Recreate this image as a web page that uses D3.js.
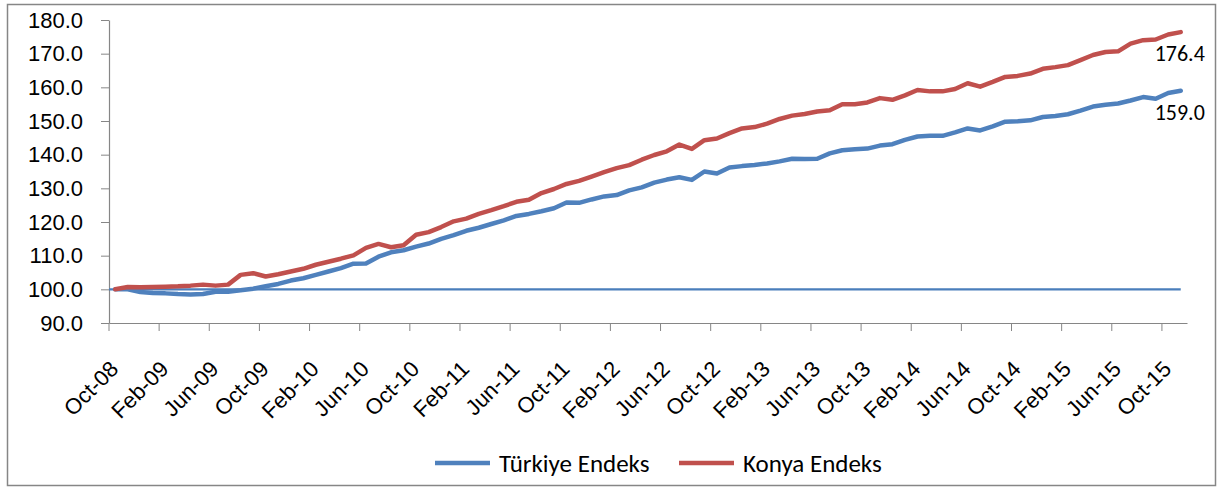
<!DOCTYPE html>
<html>
<head>
<meta charset="utf-8">
<script src="https://cdn.jsdelivr.net/npm/d3@7"></script>
<style>
  body { margin: 0; background: #fff; }
  svg { display: block; font-family: Calibri, Carlito, Lato, sans-serif; }
  .axis path, .axis line { stroke: #868686; }
  .axis text { fill: #000; font-size: 22px; }
</style>
</head>
<body>
<svg id="chart" width="1218" height="488"></svg>
<script>
// monthly categories, Oct-08 .. Nov-15
const months = d3.timeMonth.range(new Date(2008, 9, 1), new Date(2015, 11, 1));
const fmt = d3.timeFormat("%b-%y");
const categories = months.map(fmt);

const tickLabels = ["Oct-08", "Feb-09", "Jun-09", "Oct-09", "Feb-10", "Jun-10", "Oct-10",
  "Feb-11", "Jun-11", "Oct-11", "Feb-12", "Jun-12", "Oct-12", "Feb-13", "Jun-13",
  "Oct-13", "Feb-14", "Jun-14", "Oct-14", "Feb-15", "Jun-15", "Oct-15"];

const yTicks = [90, 100, 110, 120, 130, 140, 150, 160, 170, 180];
const baseLevel = 100;

const turkiye = [
  100.0, 100.0, 99.2, 98.9, 98.8, 98.6, 98.5, 98.6, 99.3, 99.3,
  99.7, 100.2, 100.9, 101.6, 102.6, 103.3, 104.3, 105.3, 106.3, 107.6,
  107.7, 109.7, 111.0, 111.6, 112.7, 113.6, 115.0, 116.1, 117.4, 118.3,
  119.4, 120.5, 121.8, 122.4, 123.2, 124.1, 125.8, 125.7, 126.7, 127.6,
  128.0, 129.4, 130.3, 131.7, 132.6, 133.3, 132.5, 135.0, 134.4, 136.2,
  136.6, 136.9, 137.4, 138.0, 138.8, 138.7, 138.8, 140.4, 141.3, 141.6,
  141.8, 142.7, 143.1, 144.4, 145.4, 145.6, 145.6, 146.6, 147.8, 147.2,
  148.4, 149.8, 149.9, 150.2, 151.2, 151.5, 152.0, 153.1, 154.3, 154.8,
  155.2, 156.1, 157.1, 156.6, 158.3, 159.0
];

const konya = [
  100.0, 100.7, 100.6, 100.7, 100.8, 100.9, 101.1, 101.4, 101.1, 101.4,
  104.3, 104.8, 103.8, 104.5, 105.3, 106.1, 107.3, 108.2, 109.1, 110.1,
  112.3, 113.5, 112.5, 113.1, 116.2, 117.0, 118.5, 120.2, 121.0, 122.4,
  123.5, 124.7, 126.0, 126.6, 128.6, 129.8, 131.3, 132.2, 133.5, 134.8,
  136.0, 136.9, 138.5, 139.9, 141.0, 143.0, 141.7, 144.3, 144.8, 146.4,
  147.8, 148.2, 149.2, 150.6, 151.6, 152.1, 152.8, 153.2, 155.0, 155.0,
  155.5, 156.8, 156.3, 157.6, 159.2, 158.8, 158.8, 159.5, 161.2, 160.2,
  161.6, 163.1, 163.4, 164.1, 165.5, 166.0, 166.6, 168.1, 169.6, 170.5,
  170.7, 173.0, 174.0, 174.2, 175.7, 176.4
];

const series = [
  { name: "Türkiye Endeks", values: turkiye, color: "#4F81BD" },
  { name: "Konya Endeks", values: konya, color: "#C0504D" }
];

const svg = d3.select("#chart");

// outer chart border
svg.append("rect")
  .attr("x", 7.5).attr("y", 4.5)
  .attr("width", 1208).attr("height", 481)
  .attr("fill", "#fff")
  .attr("stroke", "#868686")
  .attr("stroke-width", 1.5);

const x = d3.scaleBand().domain(categories).range([109, 1187]).padding(0);
const bw = x.bandwidth();
const cx = c => x(c) + bw / 2;
const y = d3.scaleLinear().domain([90, 180]).range([323, 20]);

// y axis
svg.append("g")
  .attr("class", "axis")
  .attr("transform", "translate(109,0)")
  .call(d3.axisLeft(y).tickValues(yTicks).tickFormat(d3.format(".1f"))
    .tickSize(8).tickSizeOuter(0).tickPadding(18))
  .call(g => g.select(".domain").attr("stroke-width", 1.2));

// x axis: ticks on category boundaries, labels at centres
const xg = svg.append("g")
  .attr("class", "axis")
  .attr("transform", "translate(0,323)")
  .call(d3.axisBottom(x).tickValues(tickLabels).tickSize(8).tickSizeOuter(0));
xg.select(".domain").attr("stroke-width", 1.2);
xg.selectAll(".tick line").attr("x1", -bw / 2).attr("x2", -bw / 2);
xg.selectAll(".tick text")
  .attr("text-anchor", "end")
  .attr("font-size", 23)
  .attr("x", 0).attr("y", 0).attr("dy", "0.35em")
  .attr("transform", "translate(-1,42) rotate(-45)");

// reference line at 100
svg.append("line")
  .attr("x1", x.range()[0])
  .attr("x2", cx(categories[categories.length - 1]))
  .attr("y1", y(baseLevel)).attr("y2", y(baseLevel))
  .attr("stroke", "#4A7EBB")
  .attr("stroke-width", 2.2);

const line = d3.line()
  .x((d, i) => cx(categories[i]))
  .y(d => y(d));

series.forEach(s => {
  svg.append("path")
    .datum(s.values)
    .attr("fill", "none")
    .attr("stroke", s.color)
    .attr("stroke-width", 4.5)
    .attr("stroke-linejoin", "round")
    .attr("stroke-linecap", "round")
    .attr("d", line);

  const last = s.values.length - 1;
  svg.append("text")
    .attr("x", cx(categories[last]) - 1)
    .attr("y", y(s.values[last]) + 29)
    .attr("text-anchor", "middle")
    .attr("font-size", 22)
    .text(d3.format(".1f")(s.values[last]));
});

// legend
const legendX = [435, 679];
const lg = svg.append("g").attr("transform", "translate(0,463)");
series.forEach((s, i) => {
  lg.append("line")
    .attr("x1", legendX[i]).attr("x2", legendX[i] + 55)
    .attr("y1", 0).attr("y2", 0)
    .attr("stroke", s.color)
    .attr("stroke-width", 4.5);
  lg.append("text")
    .attr("x", legendX[i] + 64)
    .attr("y", 0)
    .attr("dy", "0.35em")
    .attr("font-size", 25)
    .text(s.name);
});
</script>
</body>
</html>
